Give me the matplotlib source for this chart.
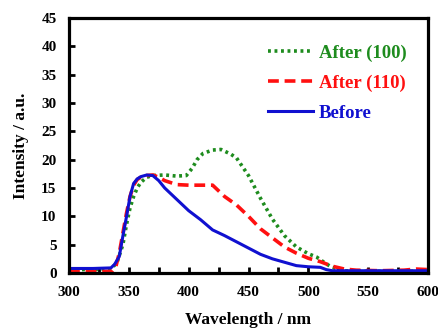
import matplotlib
matplotlib.use("Agg")
import matplotlib.pyplot as plt

# wavelength (nm) and intensity (a.u.)
wl_before = [300, 320, 335, 338, 342, 345, 348, 351, 354, 357, 360, 365, 370, 375, 380, 390,
             400, 410, 420, 430, 440, 450, 460, 470, 480, 490, 500, 510, 515, 520, 530, 560, 600]
before = [0.8, 0.8, 0.9, 1.5, 2.9, 6.5, 9.9, 13.5, 15.8, 16.6, 17.0, 17.3, 17.2, 16.3, 15.0, 13.0,
          11.0, 9.4, 7.6, 6.6, 5.5, 4.4, 3.3, 2.5, 1.9, 1.3, 1.1, 1.0, 0.6, 0.4, 0.4, 0.4, 0.4]

wl_110 = [300, 320, 336, 339, 342, 345, 348, 351, 354, 357, 360, 365, 370, 375, 380, 390,
          400, 410, 420, 425, 430, 440, 450, 460, 470, 480, 490, 500, 510, 520, 530, 540, 560,
          580, 590, 600]
after_110 = [0.3, 0.3, 0.3, 1.0, 3.5, 7.0, 10.5, 13.5, 15.5, 16.5, 16.9, 17.2, 17.3, 16.9, 16.3, 15.6,
             15.5, 15.5, 15.5, 14.5, 13.5, 12.0, 10.0, 7.8, 6.2, 4.6, 3.5, 2.6, 2.0, 1.2, 0.7, 0.5, 0.4,
             0.5, 0.7, 0.6]

wl_100 = [300, 320, 335, 340, 345, 348, 351, 354, 357, 360, 365, 370, 380, 390, 398, 403,
          407, 412, 420, 427, 435, 440, 450, 460, 470, 480, 490, 500, 507, 515, 520, 530, 540,
          570, 600]
after_100 = [0.6, 0.6, 0.7, 1.8, 5.0, 8.5, 11.5, 13.5, 15.0, 16.0, 16.9, 17.2, 17.3, 17.1, 17.2, 18.5,
             20.0, 21.1, 21.7, 21.8, 21.0, 20.3, 17.2, 13.2, 9.5, 6.6, 4.6, 3.4, 2.8, 1.6, 1.0, 0.4, 0.3,
             0.3, 0.3]

xticks = [300, 350, 400, 450, 500, 550, 600]
yticks = [0, 5, 10, 15, 20, 25, 30, 35, 40, 45]

plt.rcParams['font.family'] = ['Liberation Serif', 'DejaVu Serif']
plt.rcParams['font.weight'] = 'bold'

fig = plt.figure(figsize=(4.39, 3.29), dpi=100)
ax = fig.add_axes([69 / 439, 56 / 329, 359 / 439, 255 / 329])

green = '#1e8c1e'
red = '#ff1010'
blue = '#1010d0'

ax.plot(wl_100, after_100, color=green, lw=2.6, linestyle=(0, (0.8, 1.0)), label='After (100)')
ax.plot(wl_110, after_110, color=red, lw=2.6, linestyle=(0, (3.0, 1.6)), label='After (110)')
ax.plot(wl_before, before, color=blue, lw=2.2, linestyle='-', label='Before')

ax.set_xlim(300, 600)
ax.set_ylim(0, 45)
ax.set_xticks(xticks)
ax.set_xticks(range(325, 600, 50), minor=True)
ax.set_yticks(yticks)
ax.tick_params(axis='both', which='both', direction='in', length=4, width=2,
               labelsize=11, pad=9)
for lab in ax.get_xticklabels() + ax.get_yticklabels():
    lab.set_fontweight('bold')
for sp in ax.spines.values():
    sp.set_linewidth(2.3)

ax.set_xlabel('Wavelength / nm', fontsize=12.5, fontweight='bold', labelpad=10)
ax.set_ylabel('Intensity / a.u.', fontsize=12.5, fontweight='bold', labelpad=9)

leg = ax.legend(loc='upper right', frameon=False, fontsize=13.5, handlelength=2.4,
                handletextpad=0.35, labelspacing=0.67, borderaxespad=0,
                bbox_to_anchor=(0.962, 0.925))
for text, line in zip(leg.get_texts(), leg.get_lines()):
    text.set_color(line.get_color())
    text.set_fontweight('bold')

fig.savefig('out.png', dpi=100)
